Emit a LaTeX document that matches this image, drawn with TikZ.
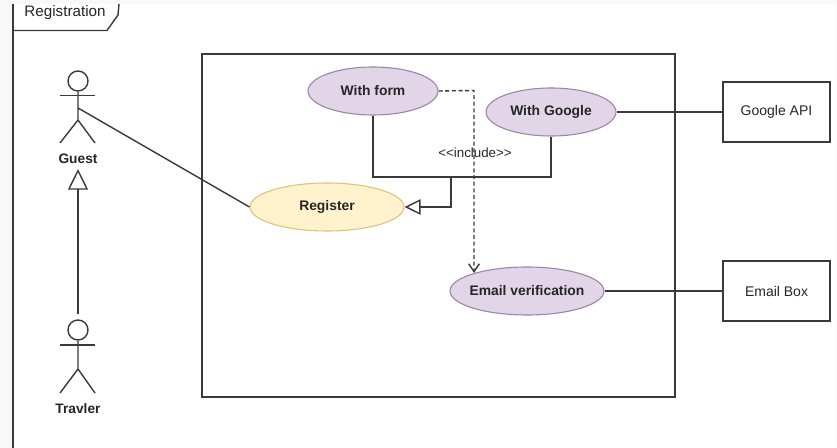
\documentclass[tikz,border=0pt]{standalone}
\usepackage{fontspec}
\setmainfont{Liberation Sans}
\usepackage{xcolor}
\usetikzlibrary{shapes,arrows.meta}
\definecolor{linegray}{HTML}{3A3A3A}
\definecolor{textgray}{HTML}{262626}
\definecolor{pagegray}{HTML}{F8F8F8}
\definecolor{purplefill}{HTML}{E1D5E7}
\definecolor{purpleline}{HTML}{9A84A8}
\definecolor{yellowfill}{HTML}{FFF2CC}
\definecolor{yellowline}{HTML}{DCC27A}
\tikzset{
  wire/.style={draw=linegray, line width=1.05pt},
  usecase/.style={ellipse, draw=purpleline, fill=purplefill, line width=0.8pt, inner sep=0pt,
    minimum width=97.5pt, minimum height=36pt, text=textgray, font=\fontsize{10.4}{12}\selectfont\bfseries},
  mainuse/.style={usecase, draw=yellowline, fill=yellowfill, minimum width=115.5pt},
  extbox/.style={rectangle, draw=linegray, line width=1.05pt, inner sep=0pt,
    minimum width=80pt, minimum height=45pt, text=textgray, font=\fontsize{10.5}{12}\selectfont},
  head/.style={circle, draw=linegray, line width=1.05pt, inner sep=0pt, minimum size=15pt},
  actorname/.style={text=textgray, inner sep=0pt, font=\fontsize{10.3}{12}\selectfont\bfseries},
  gen/.style={wire, -{Triangle[open, length=15.5pt, width=15pt, line width=1.05pt]}},
  gensmall/.style={wire, -{Triangle[open, length=12pt, width=11.5pt, line width=1.05pt]}},
  incl/.style={wire, densely dashed, -{Straight Barb[length=6pt, width=8pt, line width=1.05pt]}}
}
\begin{document}
\begin{tikzpicture}[x=0.75pt,y=-0.75pt]
  % page
  \fill[pagegray] (0, 0) rectangle (837, 448);
  \fill[white] (13, 4) rectangle (836, 448);
  \useasboundingbox (0, 0) rectangle (837, 448);
  %
  % Frame and its tab
  \draw[wire] (13, 4) -- (13, 448);
  \draw[wire] (13, 30.5) -- (107, 30.5) -- (118, 15) -- (119, 4);
  \node[text=textgray, inner sep=0pt, font=\fontsize{11.4}{13}\selectfont] (tab) at (65, 13) {Registration};
  \draw[wire] (202, 54) rectangle (675, 397);
  %
  % Use cases
  \node[usecase] (form) at (373, 91) {With form};
  \node[usecase] (google) at (551, 112) {With Google};
  \node[mainuse] (register) at (327, 207) {Register};
  \node[usecase, minimum width=115.5pt] (email) at (527, 291) {\makebox[0pt]{Email verification}};
  %
  % Outside systems
  \node[extbox] (api) at (776.5, 112) {Google API};
  \node[extbox] (box) at (776.5, 291) {Email Box};
  %
  % Guest
  \node[head] (ghead) at (78, 81) {};
  \coordinate (gneck) at (78, 108);
  \coordinate (ghip) at (78, 120);
  \draw[wire] (ghead) -- (ghip) -- (60, 143);
  \draw[wire] (ghip) -- (95, 143);
  \draw[wire] (60, 95.5) -- (95, 95.5);
  \node[actorname] (guest) at (78, 159) {Guest};
  %
  % Travler
  \node[head] (thead) at (78, 330) {};
  \coordinate (thip) at (78, 369);
  \draw[wire] (thead) -- (thip) -- (60, 393);
  \draw[wire] (thip) -- (95, 393);
  \draw[wire] (60, 345) -- (95, 345);
  \node[actorname] (travler) at (78, 408.5) {Travler};
  %
  % Edges
  \coordinate (gtip) at (78, 169);
  \coordinate (ttop) at (78, 314);
  \coordinate (join) at (451, 177);
  \coordinate (turn) at (474, 90.5);
  \draw[gen] (ttop) -- (gtip);
  \draw[wire] (gneck) -- (register.west);
  \draw[wire] (form.south) |- (google.south |- join) -- (google.south);
  \draw[gensmall] (join) |- (register.east);
  \draw[incl] (form.east) -- (turn) -- (474, 273);
  \draw[wire] (google.east) -- (api.west);
  \draw[wire] (email.east) -- (box.west);
  \node[text=textgray, inner sep=0pt, font=\fontsize{10}{12}\selectfont] (include) at (475, 153) {<{}<include>{}>};
\end{tikzpicture}
\end{document}
